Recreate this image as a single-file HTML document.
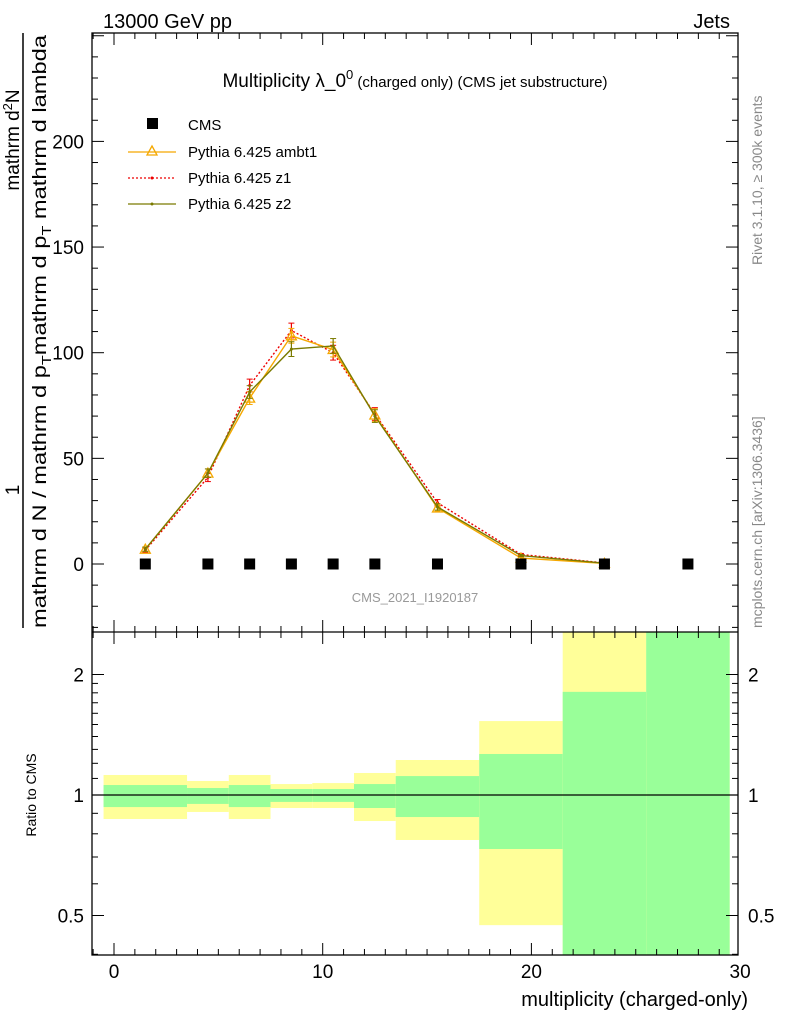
<!DOCTYPE html>
<html><head><meta charset="utf-8"><style>body{margin:0;background:#fff}svg{display:block;font-family:"Liberation Sans",sans-serif}</style></head>
<body>
<svg id="c" width="786" height="1024" xmlns="http://www.w3.org/2000/svg">
<rect x="0" y="0" width="786" height="1024" fill="#fff"/>
<g id="ratio"></g>
<g id="main"></g>
<g id="axes"></g>
<text x="103" y="28" font-size="20">13000 GeV pp</text>
<text x="730" y="28" font-size="20" text-anchor="end">Jets</text>
<text x="415" y="87" font-size="19" text-anchor="middle">Multiplicity λ_0<tspan dy="-8" font-size="13">0</tspan><tspan dy="8" font-size="15"> (charged only) (CMS jet substructure)</tspan></text>
<text x="415" y="602" font-size="13" fill="#999" text-anchor="middle">CMS_2021_I1920187</text>
<g>
<rect x="147" y="118" width="11" height="11" fill="#000"/>
<text x="188" y="130" font-size="15">CMS</text>
<line x1="128" y1="152" x2="176" y2="152" stroke="#f5a800" stroke-width="1.3"/><path d="M152 146 L157 155 L147 155 Z" fill="none" stroke="#f5a800" stroke-width="1.3"/>
<text x="188" y="157" font-size="15">Pythia 6.425 ambt1</text>
<line x1="128" y1="178" x2="176" y2="178" stroke="#e00" stroke-width="1.3" stroke-dasharray="2,2"/><circle cx="152" cy="178" r="1.5" fill="#e00"/>
<text x="188" y="183" font-size="15">Pythia 6.425 z1</text>
<line x1="128" y1="204" x2="176" y2="204" stroke="#7a7a00" stroke-width="1.3"/><circle cx="152" cy="204" r="1.5" fill="#7a7a00"/>
<text x="188" y="209" font-size="15">Pythia 6.425 z2</text>
</g>
<line x1="23" y1="33" x2="23" y2="628" stroke="#000" stroke-width="1.5"/>
<text transform="translate(19,140) rotate(-90)" font-size="19" text-anchor="middle">mathrm d<tspan dy="-7" font-size="13">2</tspan><tspan dy="7">N</tspan></text>
<text transform="translate(19,490) rotate(-90)" font-size="19" text-anchor="middle">1</text>
<text transform="translate(46,628) rotate(-90)" font-size="19" textLength="593" lengthAdjust="spacingAndGlyphs">mathrm d N / mathrm d p<tspan dy="5" font-size="13">T</tspan><tspan dy="-5">mathrm d p</tspan><tspan dy="5" font-size="13">T</tspan><tspan dy="-5"> mathrm d lambda</tspan></text>
<text transform="translate(36,795) rotate(-90)" font-size="14" text-anchor="middle">Ratio to CMS</text>
<text x="748" y="1006" font-size="20" text-anchor="end">multiplicity (charged-only)</text>
<text transform="translate(762,265) rotate(-90)" font-size="14" fill="#888">Rivet 3.1.10, ≥ 300k events</text>
<text transform="translate(762,628) rotate(-90)" font-size="14" fill="#888">mcplots.cern.ch [arXiv:1306.3436]</text>
</svg>
<script>
const edges=[-0.5,3.5,5.5,7.5,9.5,11.5,13.5,17.5,21.5,25.5,29.5];
const centers=[1.5,4.5,6.5,8.5,10.5,12.5,15.5,19.5,23.5,27.5];
const cmsVals=[0,0,0,0,0,0,0,0,0,0];
const ambt1=[7,43,78.5,108,101.5,70.5,26.5,2.8,0.3];
const z1=[6.5,41,84.5,110.5,100,71,29,4.5,0.5];
const z2=[7,43,81.4,101.7,103.2,70,27,4,0.4];
const errs=[1,2,3,3.5,3.5,3,1.5,0.5,0.2];
const yelLo=[0.871,0.907,0.871,0.928,0.928,0.861,0.772,0.473,0.3,0.3];
const yelHi=[1.122,1.084,1.122,1.065,1.071,1.135,1.223,1.53,3,3];
const grnLo=[0.933,0.95,0.933,0.961,0.961,0.928,0.881,0.733,0.3,0.3];
const grnHi=[1.059,1.041,1.059,1.035,1.035,1.065,1.115,1.266,1.81,3];
const yTicks=[0,50,100,150,200];
const xTicks=[0,10,20,30];
const rTicks=[0.5,1,2];
const L=92,R=738,T=33,M=632,B=955;
const X=v=>114+(v)*20.87;
const Y=v=>564-v*2.113;
const RY=v=>Math.min(B,Math.max(M,795-Math.log2(v)*120.5));
const NS="http://www.w3.org/2000/svg";
function mk(p,t,a){const e=document.createElementNS(NS,t);for(const k in a)e.setAttribute(k,a[k]);p.appendChild(e);return e;}
const rg=document.getElementById('ratio'),mg=document.getElementById('main'),ag=document.getElementById('axes');
for(let i=0;i<10;i++){
 const x1=X(edges[i]),x2=Math.min(R,X(edges[i+1]));
 let e=mk(rg,'rect',{x:x1,y:RY(yelHi[i]),width:x2-x1,height:RY(yelLo[i])-RY(yelHi[i]),fill:'#ffff99'});
 
 
 e=mk(rg,'rect',{x:x1,y:RY(grnHi[i]),width:x2-x1,height:RY(grnLo[i])-RY(grnHi[i]),fill:'#99ff99'});
 
 
}
mk(rg,'line',{x1:L,x2:R,y1:RY(1),y2:RY(1),stroke:'#000','stroke-width':1.2});
function series(vals,color,dash,name,tri){
 const pts=vals.map((v,i)=>X(centers[i])+','+Y(v)).join(' ');
 let e=mk(mg,'polyline',{points:pts,fill:'none',stroke:color,'stroke-width':1.4,'stroke-dasharray':dash});
 
 
 vals.forEach((v,i)=>{const x=X(centers[i]),y=Y(v);
  mk(mg,'line',{x1:x,x2:x,y1:Y(v+errs[i]),y2:Y(v-errs[i]),stroke:color,'stroke-width':1.2});
  mk(mg,'line',{x1:x-3,x2:x+3,y1:Y(v+errs[i]),y2:Y(v+errs[i]),stroke:color});
  mk(mg,'line',{x1:x-3,x2:x+3,y1:Y(v-errs[i]),y2:Y(v-errs[i]),stroke:color});
  if(tri){e=mk(mg,'path',{d:`M${x} ${y-5} L${x+5} ${y+4} L${x-5} ${y+4} Z`,fill:'none',stroke:color,'stroke-width':1.3});}
  else{e=mk(mg,'circle',{cx:x,cy:y,r:1.5,fill:color});}
  
  
 });
}
series(z1,'#e00','2,2','z1',false);
series(ambt1,'#f5a800','none','ambt1',true);
series(z2,'#7a7a00','none','z2',false);
centers.forEach((c,i)=>{const e=mk(mg,'rect',{x:X(c)-5.5,y:Y(cmsVals[i])-5.5,width:11,height:11,fill:'#000'});
 
 });
mk(ag,'rect',{x:L,y:T,width:R-L,height:B-T,fill:'none',stroke:'#000','stroke-width':1.3});
mk(ag,'line',{x1:L,x2:R,y1:M,y2:M,stroke:'#000','stroke-width':1.3});
for(let v=-30;v<=250;v+=10){const y=Y(v);if(y<T||y>M)continue;const big=v%50===0,l=big?12:6;
 mk(ag,'line',{x1:L,x2:L+l,y1:y,y2:y,stroke:'#000'});mk(ag,'line',{x1:R,x2:R-l,y1:y,y2:y,stroke:'#000'});}
yTicks.forEach(v=>{const e=mk(ag,'text',{x:L-8,y:Y(v)+7,'font-size':19,'text-anchor':'end'});e.textContent=v;
 
 });
for(let v=-1;v<=29;v++){const x=X(v);const big=v%10===0,l=big?12:6;
 mk(ag,'line',{x1:x,x2:x,y1:B,y2:B-l,stroke:'#000'});mk(ag,'line',{x1:x,x2:x,y1:M,y2:M+l,stroke:'#000'});
 mk(ag,'line',{x1:x,x2:x,y1:T,y2:T+l,stroke:'#000'});mk(ag,'line',{x1:x,x2:x,y1:M,y2:M-l,stroke:'#000'});}
xTicks.forEach(v=>{const e=mk(ag,'text',{x:X(v),y:978,'font-size':19,'text-anchor':'middle'});e.textContent=v;
 
 });
[0.4,0.5,0.6,0.7,0.8,0.9,1,2,1.1,1.2,1.3,1.4,1.5,1.6,1.7,1.8,1.9].forEach(v=>{const y=RY(v);const big=rTicks.includes(v),l=big?12:6;
 mk(ag,'line',{x1:L,x2:L+l,y1:y,y2:y,stroke:'#000'});mk(ag,'line',{x1:R,x2:R-l,y1:y,y2:y,stroke:'#000'});});
rTicks.forEach(v=>{let e=mk(ag,'text',{x:L-8,y:RY(v)+7,'font-size':19,'text-anchor':'end'});e.textContent=v;
 
 
 e=mk(ag,'text',{x:R+10,y:RY(v)+7,'font-size':19});e.textContent=v;
 
 });
</script>
</body></html>
